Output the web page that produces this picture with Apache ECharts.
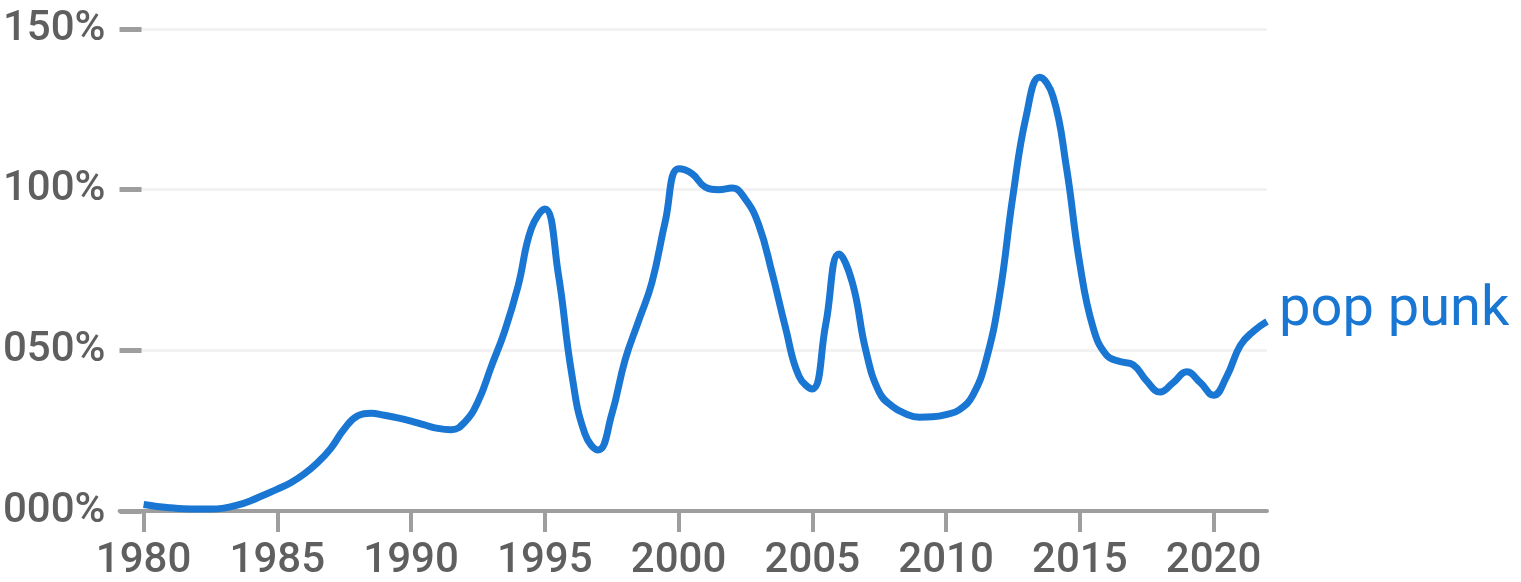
<!DOCTYPE html>
<html>
<head>
<meta charset="utf-8">
<script src="https://cdn.jsdelivr.net/npm/echarts@6/dist/echarts.min.js"></script>
<style>
html,body{margin:0;padding:0;background:#fff;}
#chart{width:1521px;height:582px;}
</style>
</head>
<body>
<div id="chart"></div>
<script>
const seriesName = 'pop punk';
const years = [
  1980,1980.5,1981,1981.5,1982,1982.5,1983,1983.5,1984,1984.5,
  1985,1985.5,1986,1986.5,1987,1987.5,1988,1988.5,1989,1989.5,
  1990,1990.5,1991,1991.5,1992,1992.5,1993,1993.5,1994,1994.5,
  1995,1995.5,1996,1996.5,1997,1997.5,1998,1998.5,1999,1999.5,
  2000,2000.5,2001,2001.5,2002,2002.5,2003,2003.5,2004,2004.5,
  2005,2005.5,2006,2006.5,2007,2007.5,2008,2008.5,2009,2009.5,
  2010,2010.5,2011,2011.5,2012,2012.5,2013,2013.5,2014,2014.5,
  2015,2015.5,2016,2016.5,2017,2017.5,2018,2018.5,2019,2019.5,
  2020,2020.5,2021,2021.5,2022
];
const share = [
  2.0,1.4,1.0,0.7,0.6,0.6,0.9,1.8,3.2,5.0,
  6.8,8.8,11.5,15.0,19.5,25.5,29.6,30.4,29.8,29.0,
  28.0,26.8,25.7,25.3,27.6,34,45,56,70,88,
  94,74,43,24,19,30,47,59,71,90,
  106.5,105,100.8,100,100.5,97,89,74,57,42,
  38,58,80,71,50,37,32.5,30.2,29.2,29.3,
  30,31.5,36,47,67,98,123,135,129,107,
  77,57,48.5,46.5,45.5,40.5,37,40,43.3,40,
  36,42,51.5,56,59
];
const xTicks = [1980,1985,1990,1995,2000,2005,2010,2015,2020];
const xTickLabels = ['1980','1985','1990','1995','2000','2005','2010','2015','2020'];
const yTicks = [0,50,100,150];
const yTickLabels = ['000%','050%','100%','150%'];

const data = years.map((y,i)=>[y, share[i]]);
const chart = echarts.init(document.getElementById('chart'), null, {renderer:'canvas'});
const font = 'Roboto, "Noto Sans", sans-serif';
chart.setOption({
  animation:false,
  backgroundColor:'#ffffff',
  grid:{left:117,right:254,top:29,bottom:69,containLabel:false},
  xAxis:{
    type:'value', min:1979.1, max:2022,
    axisLine:{show:true,lineStyle:{color:'#9e9e9e',width:4}},
    axisTick:{show:true,customValues:xTicks,length:21,lineStyle:{color:'#9e9e9e',width:4}},
    axisLabel:{show:true,customValues:xTicks,margin:29,color:'#5f5f5f',fontSize:42,fontWeight:500,fontFamily:font,
      formatter:(v)=>{const i=xTicks.indexOf(v);return i>=0?xTickLabels[i]:'';}},
    splitLine:{show:false}
  },
  yAxis:{
    type:'value', min:0, max:150, interval:50,
    axisLine:{show:false},
    axisTick:{show:true,inside:true,length:22,lineStyle:{color:'#9e9e9e',width:5}},
    axisLabel:{show:true,margin:14,color:'#5f5f5f',fontSize:42,fontWeight:500,fontFamily:font,
      formatter:(v)=>{const i=yTicks.indexOf(v);return i>=0?yTickLabels[i]:'';}},
    splitLine:{show:true,lineStyle:{color:'#f2f2f2',width:3}}
  },
  series:[{
    name:seriesName,
    type:'line',
    data:data,
    smooth:0.45,
    symbol:'none',
    lineStyle:{color:'#1976d2',width:7},
    endLabel:{show:true,formatter:seriesName,color:'#1976d2',fontSize:56,fontFamily:font,distance:12,offset:[0,-10]}
  }]
});
</script>
</body>
</html>
